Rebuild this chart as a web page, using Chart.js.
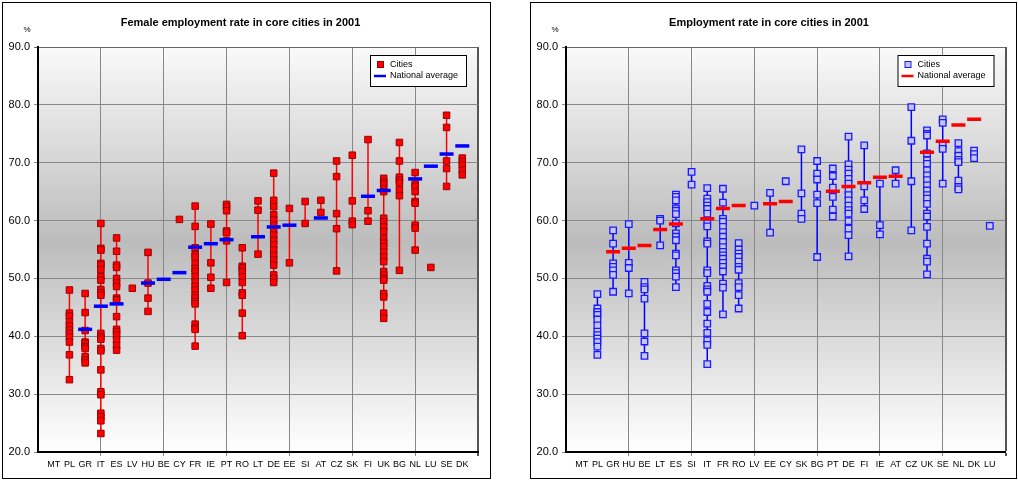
<!DOCTYPE html>
<html>
<head>
<meta charset="utf-8">
<script src="https://cdn.jsdelivr.net/npm/chart.js@4.4.1/dist/chart.umd.min.js"></script>
<style>
  body { margin: 0; background: #fff; width: 1018px; height: 481px; position: relative; overflow: hidden; }
  .panel { position: absolute; top: 2px; height: 475px; border: 1px solid #000; background: #fff; }
  #leftPanel { left: 2px; width: 487px; }
  #rightPanel { left: 530px; width: 485px; }
  canvas { display: block; }
</style>
</head>
<body>
<div class="panel" id="leftPanel"><canvas id="femaleChart" width="487" height="475"></canvas></div>
<div class="panel" id="rightPanel"><canvas id="totalChart" width="485" height="475"></canvas></div>
<script>
// Female employment rate (left panel)
const femaleCountries = ['MT','PL','GR','IT','ES','LV','HU','BE','CY','FR','IE','PT','RO','LT','DE','EE','SI','AT','CZ','SK','FI','UK','BG','NL','LU','SE','DK'];
const femaleCities = [
    [],
    [48.0, 44.0, 43.5, 42.5, 41.8, 41.1, 40.5, 39.9, 39.0, 36.8, 32.5],
    [47.4, 44.1, 41.0, 39.0, 38.8, 38.2, 37.9, 36.5, 35.9, 35.4],
    [59.5, 55.2, 54.9, 52.6, 52.3, 51.5, 50.3, 49.7, 48.1, 47.5, 47.1, 40.5, 39.9, 39.5, 37.9, 37.5, 34.2, 30.4, 29.9, 26.7, 26.1, 25.4, 23.2],
    [57.0, 54.7, 52.3, 51.9, 50.0, 49.2, 48.6, 46.6, 46.3, 43.4, 41.2, 40.8, 40.2, 39.4, 38.4, 37.6],
    [48.3],
    [54.5, 49.2, 46.6, 44.3],
    [],
    [60.2],
    [62.5, 59.0, 55.3, 54.1, 53.7, 52.6, 51.7, 51.2, 50.3, 49.4, 48.6, 48.0, 47.1, 46.6, 46.0, 45.6, 42.1, 41.5, 41.2, 38.3],
    [59.4, 52.7, 50.2, 48.3],
    [62.8, 62.4, 61.7, 58.2, 57.9, 56.5, 49.3],
    [55.3, 52.1, 51.8, 51.2, 50.3, 49.3, 47.5, 47.1, 44.0, 40.1],
    [63.4, 61.8, 54.2],
    [68.2, 63.5, 62.4, 61.0, 60.1, 59.2, 58.4, 57.5, 56.6, 55.8, 54.9, 54.0, 53.2, 52.3, 50.6, 50.0, 49.3],
    [62.1, 52.7],
    [63.3, 59.5],
    [63.5, 61.4],
    [70.3, 67.6, 61.2, 58.6, 51.3],
    [71.3, 63.4, 59.9, 59.3],
    [74.0, 61.7, 59.9],
    [67.3, 66.7, 66.3, 65.5, 65.0, 60.4, 59.8, 58.9, 58.1, 56.9, 56.1, 55.5, 54.6, 53.7, 52.9, 51.2, 50.6, 50.0, 49.7, 47.4, 46.8, 44.0, 43.1],
    [73.5, 70.3, 67.5, 67.0, 66.5, 65.3, 64.3, 51.4],
    [68.3, 66.3, 65.9, 65.0, 63.3, 63.0, 59.2, 58.7, 54.9],
    [51.9],
    [78.2, 76.1, 70.3, 69.0, 65.9],
    [70.8, 70.2, 69.6, 68.7, 67.9]
];
const femaleNational = [null, null, 41.2, 45.2, 45.6, null, 49.2, 49.85, 51.0, 55.4, 56.0, 56.7, null, 57.2, 58.9, 59.2, null, 60.45, null, null, 64.2, 65.2, null, 67.2, 69.4, 71.5, 72.9];

// Total employment rate (right panel)
const totalCountries = ['MT','PL','GR','HU','BE','LT','ES','SI','IT','FR','RO','LV','EE','CY','SK','BG','PT','DE','FI','IE','AT','CZ','UK','SE','NL','DK','LU'];
const totalCities = [
    [],
    [47.3, 44.8, 44.2, 43.7, 42.9, 41.9, 40.8, 40.2, 39.6, 39.0, 38.2, 36.8],
    [58.3, 56.0, 52.6, 52.0, 51.4, 50.6, 47.7],
    [59.4, 52.7, 51.8, 47.4],
    [49.4, 48.5, 48.1, 46.5, 40.5, 39.1, 36.6],
    [60.3, 60.0, 55.7],
    [64.5, 64.1, 63.5, 62.1, 61.7, 61.1, 59.5, 57.8, 57.2, 56.6, 54.3, 54.0, 51.4, 50.9, 50.3, 48.5],
    [68.4, 66.2],
    [65.6, 63.8, 63.2, 62.6, 62.0, 61.2, 59.5, 59.0, 56.4, 56.0, 51.4, 50.9, 48.7, 48.1, 47.7, 45.6, 44.2, 42.2, 40.6, 39.3, 38.5, 35.2],
    [65.5, 63.1, 60.3, 59.8, 58.9, 58.0, 57.2, 56.3, 55.4, 54.6, 54.0, 53.4, 52.7, 52.0, 51.2, 49.1, 48.4, 43.8],
    [56.1, 55.0, 54.3, 53.7, 52.9, 52.0, 51.5, 49.2, 48.5, 47.1, 44.8],
    [62.6],
    [64.8, 57.9],
    [66.8],
    [72.3, 64.7, 61.2, 60.3],
    [70.3, 68.1, 67.1, 64.5, 63.0, 53.7],
    [69.0, 67.7, 65.7, 64.1, 61.9, 60.7],
    [74.5, 69.7, 68.8, 68.1, 67.2, 66.4, 65.2, 64.4, 63.5, 62.6, 61.8, 61.2, 59.9, 58.6, 57.5, 53.8],
    [73.0, 65.9, 63.5, 62.0],
    [66.4, 59.2, 57.6],
    [68.7, 66.4],
    [79.6, 73.8, 66.8, 58.3],
    [75.6, 75.0, 74.7, 71.6, 70.4, 69.8, 68.7, 67.8, 67.0, 66.1, 65.2, 64.4, 63.8, 62.9, 61.2, 60.7, 58.9, 56.0, 53.4, 52.9, 50.7],
    [77.5, 76.9, 73.1, 72.4, 66.4],
    [73.4, 72.0, 71.2, 70.5, 70.1, 66.9, 65.8, 65.4],
    [72.1, 71.5, 70.8],
    [59.1]
];
const totalNational = [null, null, 54.6, 55.2, 55.7, 58.45, 59.4, null, 60.3, 62.1, 62.6, null, 62.9, 63.3, null, null, 65.05, 65.9, 66.55, 67.5, 67.65, null, 71.8, 73.7, 76.5, 77.5, null];

const yTicks = [20, 30, 40, 50, 60, 70, 80, 90];

Chart.defaults.font.family = 'Arial, "Liberation Sans", sans-serif';
Chart.defaults.color = '#000';

// grey gradient behind the plot area
const plotBackground = {
    id: 'plotBackground',
    beforeDraw(chart) {
        const { ctx, chartArea: a } = chart;
        const g = ctx.createLinearGradient(0, a.top, 0, a.bottom);
        g.addColorStop(0, '#fafafa');
        g.addColorStop(0.48, '#bcbcbc');
        g.addColorStop(1, '#ffffff');
        ctx.save();
        ctx.fillStyle = g;
        ctx.fillRect(a.left, a.top, a.right - a.left, a.bottom - a.top);
        ctx.restore();
    }
};

// boxed legend in the top right corner + the "%" unit
const boxLegend = {
    id: 'boxLegend',
    afterDraw(chart, args, opts) {
        const { ctx, chartArea: a } = chart;
        const x = a.right - 108, y = a.top + 8, w = 96, h = 31;
        ctx.save();
        ctx.fillStyle = '#fff';
        ctx.fillRect(x, y, w, h);
        ctx.strokeStyle = '#000';
        ctx.lineWidth = 1;
        ctx.strokeRect(x + 0.5, y + 0.5, w, h);

        ctx.fillStyle = opts.cityFill;
        ctx.strokeStyle = opts.cityBorder;
        ctx.lineWidth = 1;
        ctx.fillRect(x + 7.5, y + 6.5, 6, 6);
        ctx.strokeRect(x + 7.5, y + 6.5, 6, 6);

        ctx.strokeStyle = opts.lineColor;
        ctx.lineWidth = 2.5;
        ctx.beginPath();
        ctx.moveTo(x + 4, y + 21);
        ctx.lineTo(x + 16, y + 21);
        ctx.stroke();

        ctx.fillStyle = '#000';
        ctx.font = '9px Arial, "Liberation Sans", sans-serif';
        ctx.textBaseline = 'middle';
        ctx.fillText('Cities', x + 20, y + 9.5);
        ctx.fillText('National average', x + 20, y + 21);

        ctx.font = '8px Arial, "Liberation Sans", sans-serif';
        ctx.textAlign = 'center';
        ctx.fillText('%', 24, 27);
        ctx.restore();
    }
};

function buildChart(id, title, countries, cities, national, look, rightPad) {
    const cityPoints = [];
    const rangeLine = [];
    cities.forEach((vals, i) => {
        vals.forEach(v => cityPoints.push({ x: i + 1, y: v }));
        if (vals.length > 1) {
            rangeLine.push({ x: i + 1, y: Math.max(...vals) });
            rangeLine.push({ x: i + 1, y: Math.min(...vals) });
            rangeLine.push({ x: i + 1, y: null });
        }
    });
    const natPoints = [];
    national.forEach((v, i) => { if (v !== null) natPoints.push({ x: i + 1, y: v }); });

    new Chart(document.getElementById(id), {
        type: 'scatter',
        data: {
            datasets: [
                {
                    label: 'National average',
                    data: natPoints,
                    pointStyle: 'line',
                    radius: 7,
                    borderWidth: 3.5,
                    borderColor: look.natColor,
                    order: 0
                },
                {
                    label: 'Cities',
                    data: cityPoints,
                    pointStyle: 'rect',
                    radius: 4.6,
                    backgroundColor: look.cityFill,
                    borderColor: look.cityBorder,
                    borderWidth: look.cityBorderWidth,
                    order: 1
                },
                {
                    label: 'range',
                    data: rangeLine,
                    showLine: true,
                    spanGaps: false,
                    pointRadius: 0,
                    borderColor: look.rangeColor,
                    borderWidth: 1.5,
                    order: 2
                }
            ]
        },
        options: {
            responsive: false,
            animation: false,
            events: [],
            layout: { padding: { top: 0, right: rightPad, bottom: 0, left: 0 } },
            plugins: {
                legend: { display: false },
                tooltip: { enabled: false },
                title: {
                    display: true,
                    text: title,
                    font: { size: 11, weight: 'bold' },
                    color: '#000',
                    padding: { top: 13, bottom: 17.8 }
                },
                boxLegend: {
                    cityFill: look.cityFill,
                    cityBorder: look.cityBorder,
                    lineColor: look.natColor
                }
            },
            scales: {
                x: {
                    type: 'linear',
                    min: 0,
                    max: 28,
                    afterFit: (axis) => { axis.height = 26; },
                    ticks: {
                        stepSize: 1,
                        autoSkip: false,
                        maxRotation: 0,
                        padding: 3,
                        font: { size: 9 },
                        callback: (v) => countries[v - 1] || ''
                    },
                    grid: {
                        color: (c) => {
                            const v = c.tick ? c.tick.value : 0;
                            if (v === 28) return '#555';
                            return (v > 0 && v % 4 === 0) ? '#888' : 'rgba(0,0,0,0)';
                        },
                        lineWidth: (c) => (c.tick && c.tick.value === 28) ? 2 : 1,
                        tickLength: 4
                    },
                    border: { color: '#000', width: 2 }
                },
                y: {
                    min: 20,
                    max: 90,
                    afterFit: (axis) => { axis.width = 35; },
                    afterBuildTicks: (axis) => { axis.ticks = yTicks.map(v => ({ value: v })); },
                    ticks: {
                        padding: 4,
                        font: { size: 11 },
                        callback: (v) => v.toFixed(1)
                    },
                    grid: {
                        color: (c) => (c.tick && c.tick.value === 90) ? '#666' : '#888',
                        tickLength: 4
                    },
                    border: { color: '#000', width: 2 }
                }
            }
        },
        plugins: [plotBackground, boxLegend]
    });
}

document.addEventListener('DOMContentLoaded', () => {
    buildChart('femaleChart', 'Female employment rate in core cities in 2001',
        femaleCountries, femaleCities, femaleNational,
        { cityFill: '#ff0000', cityBorder: '#990000', cityBorderWidth: 1, rangeColor: '#ff0000', natColor: '#0000ff' }, 12);
    buildChart('totalChart', 'Employment rate in core cities in 2001',
        totalCountries, totalCities, totalNational,
        { cityFill: '#c4c4f6', cityBorder: '#1a1aff', cityBorderWidth: 1.3, rangeColor: '#0000ff', natColor: '#ff0000' }, 9);
});
</script>
</body>
</html>
